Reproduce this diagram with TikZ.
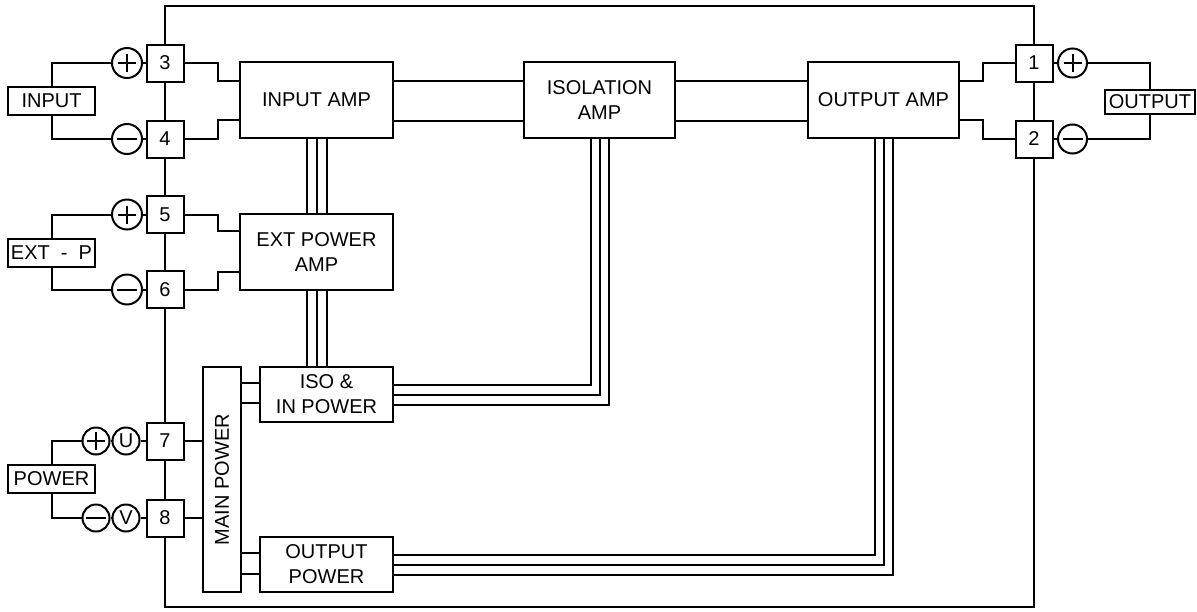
\documentclass[tikz,border=0pt]{standalone}
\usepackage{fontspec}
\setmainfont{Liberation Sans}
\usetikzlibrary{calc}

\begin{document}
\begin{tikzpicture}[x=1pt, y=-1pt, line width=2pt,
  font=\fontsize{20}{25}\selectfont,
  box/.style={draw, align=center, inner sep=0pt},
  term/.style={draw, minimum width=37, minimum height=37, inner sep=0pt},
  label box/.style={draw, minimum width=87, minimum height=28, inner sep=0pt},
  pin/.style={draw, circle, minimum size=30, inner sep=0pt},
  plus/.style={pin, path picture={\draw (path picture bounding box.center) +(-9,0) -- +(9,0) +(0,-9) -- +(0,9);}},
  minus/.style={pin, path picture={\draw (path picture bounding box.center) +(-10,0) -- +(10,0);}}]
\useasboundingbox (0,0) rectangle (1197,611);
% Frame corners
\coordinate (topleft) at (165,6);
\coordinate (topright) at (1034,6);
\coordinate (botleft) at (165,607);
\coordinate (botright) at (1034,607);
% Draw blocks
\node[box, minimum width=153, minimum height=76] (inamp) at (316.5,100) {INPUT AMP};
\node[box, minimum width=151, minimum height=76] (isoamp) at (599.5,100) {ISOLATION\\AMP};
\node[box, minimum width=151, minimum height=76] (outamp) at (883.5,100) {OUTPUT AMP};
\node[box, minimum width=153, minimum height=76] (extamp) at (316.5,252) {EXT POWER\\AMP};
\node[box, minimum width=133, minimum height=55] (isopow) at (326.5,394.5) {ISO \&\\IN POWER};
\node[box, minimum width=133, minimum height=55] (outpow) at (326.5,564.5) {OUTPUT\\POWER};
\node[box, rotate=90, minimum width=225, minimum height=38] (mainpow) at (222,479.5) {MAIN POWER};
% Draw terminals
\node[term] (t3) at (165,63) {3};
\node[term] (t4) at (165,139) {4};
\node[term] (t5) at (165,214.5) {5};
\node[term] (t6) at (165,289.5) {6};
\node[term] (t7) at (165,441) {7};
\node[term] (t8) at (165,518) {8};
\node[term] (t1) at (1034,63) {1};
\node[term] (t2) at (1034,139) {2};
% Draw pins
\node[plus] (p3) at (127,63) {};
\node[minus] (m4) at (127,139) {};
\node[plus] (p5) at (127,214.5) {};
\node[minus] (m6) at (127,289.5) {};
\node[plus, minimum size=27] (p7) at (96,441) {};
\node[pin, minimum size=27] (u7) at (126,441) {U};
\node[minus, minimum size=27] (m8) at (96,518) {};
\node[pin, minimum size=27] (v8) at (126,518) {V};
\node[plus, minimum size=29] (p1) at (1072.5,63) {};
\node[minus, minimum size=29] (m2) at (1072.5,139) {};
% Draw outside labels
\node[label box] (input) at (51.5,100.5) {INPUT};
\node[label box] (extp) at (51.5,252.5) {EXT \ - \ P};
\node[label box] (power) at (51.5,478.5) {POWER};
\node[label box, minimum width=90, minimum height=24] (output) at (1150,102) {OUTPUT};
% Draw frame
\draw (t3.north) -- (topleft) -- (topright) -- (t1.north);
\draw (t3) -- (t4) -- (t5) -- (t6) -- (t7) -- (t8);
\draw (t8.south) -- (botleft) -- (botright) -- (t2.south);
\draw (t1) -- (t2);
% Outside wires
\draw (input.north) |- (p3);
\draw (input.south) |- (m4);
\draw (extp.north) |- (p5);
\draw (extp.south) |- (m6);
\draw (power.north) |- (p7);
\draw (power.south) |- (m8);
\draw (output.north) |- (p1);
\draw (output.south) |- (m2);
\draw (p3) -- (t3);
\draw (m4) -- (t4);
\draw (p5) -- (t5);
\draw (m6) -- (t6);
\draw (p7) -- (u7) -- (t7);
\draw (m8) -- (v8) -- (t8);
\draw (p1) -- (t1);
\draw (m2) -- (t2);
% Terminals to amps
\draw (t3.east) -- ++(33,0) |- ($(inamp.north west)+(0,20)$);
\draw (t4.east) -- ++(33,0) |- ($(inamp.south west)+(0,-19)$);
\draw (t5.east) -- ++(33,0) |- ($(extamp.north west)+(0,18)$);
\draw (t6.east) -- ++(33,0) |- ($(extamp.south west)+(0,-19)$);
\draw ($(outamp.north east)+(0,20)$) -- ++(23,0) |- (t1.west);
\draw ($(outamp.south east)+(0,-19)$) -- ++(23,0) |- (t2.west);
% Signal path
\draw ($(inamp.north east)+(0,20)$) -- ($(isoamp.north west)+(0,20)$);
\draw ($(inamp.south east)+(0,-18)$) -- ($(isoamp.south west)+(0,-18)$);
\draw ($(isoamp.north east)+(0,20)$) -- ($(outamp.north west)+(0,20)$);
\draw ($(isoamp.south east)+(0,-18)$) -- ($(outamp.south west)+(0,-18)$);
% Power buses
\draw ($(inamp.south)+(-10,0)$) -- ($(extamp.north)+(-10,0)$);
\draw (inamp.south) -- (extamp.north);
\draw ($(inamp.south)+(10,0)$) -- ($(extamp.north)+(10,0)$);
\draw ($(extamp.south)+(-10,0)$) -- ($(extamp.south |- isopow.north)+(-10,0)$);
\draw (extamp.south) -- (extamp.south |- isopow.north);
\draw ($(extamp.south)+(10,0)$) -- ($(extamp.south |- isopow.north)+(10,0)$);
\draw ($(isoamp.south)+(-9,0)$) |- ($(isopow.east)+(0,-10)$);
\draw (isoamp.south) |- (isopow.east);
\draw ($(isoamp.south)+(9,0)$) |- ($(isopow.east)+(0,10)$);
\draw ($(outamp.south)+(-9,0)$) |- ($(outpow.east)+(0,-10)$);
\draw (outamp.south) |- (outpow.east);
\draw ($(outamp.south)+(9,0)$) |- ($(outpow.east)+(0,10)$);
% Main power feeds
\draw (t7.east) -- (t7.east -| mainpow.north);
\draw (t8.east) -- (t8.east -| mainpow.north);
\draw ($(isopow.north west)+(0,17)$) coordinate (a) -- (a -| mainpow.south);
\draw ($(isopow.north west)+(0,37)$) coordinate (b) -- (b -| mainpow.south);
\draw ($(outpow.north west)+(0,17)$) coordinate (c) -- (c -| mainpow.south);
\draw ($(outpow.north west)+(0,38)$) coordinate (d) -- (d -| mainpow.south);
\end{tikzpicture}
\end{document}
